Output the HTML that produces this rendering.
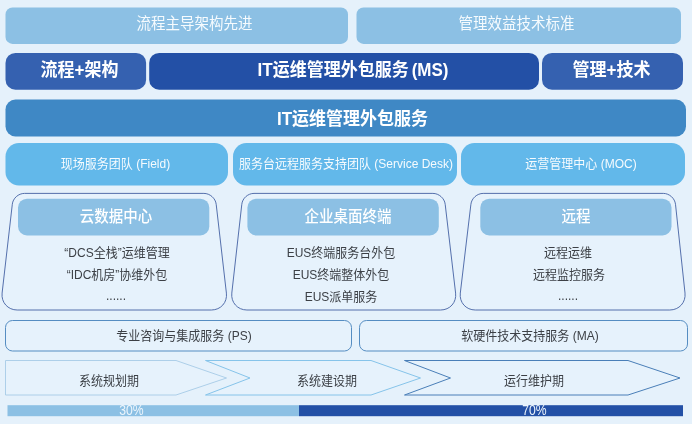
<!DOCTYPE html>
<html lang="zh-CN">
<head>
<meta charset="utf-8">
<title>IT运维管理外包服务</title>
<style>
html,body{margin:0;padding:0;}
body{width:692px;height:424px;overflow:hidden;background:#e5f1fb;position:relative;
  font-family:"Liberation Sans","Noto Sans CJK SC",sans-serif;}
#bg{position:absolute;left:0;top:0;width:692px;height:424px;display:block;}
.t{position:absolute;display:flex;align-items:center;justify-content:center;white-space:nowrap;
  text-align:center;line-height:1;transform:scaleY(1.06);will-change:transform;}
.h1{font-size:14.5px;color:#f6fbfe;font-weight:400;}
.h2{font-size:17px;color:#fff;font-weight:700;}
.h4{font-size:12px;color:#f6fbfe;font-weight:400;}
.ch{font-size:14.5px;color:#fff;font-weight:500;}
.cb{font-size:12px;color:#3c4046;font-weight:400;}
.pc{font-size:14.5px;color:#edf5fc;font-weight:400;}
.pc span{display:inline-block;transform:scaleX(0.84);}
.g2{margin-left:3px;}
</style>
</head>
<body>
<svg id="bg" width="692" height="424" viewBox="0 0 692 424">
  <rect x="0" y="0" width="692" height="424" fill="#e5f1fb"/>
  <!-- row 1 -->
  <rect x="5.5" y="7.4" width="342.5" height="36.5" rx="7" fill="#8cc0e4"/>
  <rect x="356.5" y="7.4" width="324.5" height="36.5" rx="7" fill="#8cc0e4"/>
  <!-- row 2 -->
  <rect x="5.5" y="52.9" width="140.6" height="36.9" rx="10" fill="#3561b0"/>
  <rect x="149.2" y="52.9" width="389.8" height="36.9" rx="10" fill="#2350a6"/>
  <rect x="542" y="52.9" width="141" height="36.9" rx="10" fill="#3561b0"/>
  <!-- row 3 -->
  <rect x="5.5" y="99.5" width="680.5" height="37" rx="10" fill="#3f88c5"/>
  <!-- row 4 -->
  <rect x="5.5" y="143" width="222.5" height="42.5" rx="13.5" fill="#62b8ea"/>
  <rect x="233" y="143" width="224" height="42.5" rx="13.5" fill="#62b8ea"/>
  <rect x="461" y="143" width="224" height="42.5" rx="13.5" fill="#62b8ea"/>
  <!-- cards -->
  <g fill="#e6f2fc" stroke="#4461a3" stroke-width="0.9">
    <path d="M12.3,204.3 C12.9,198.3 18.4,193.4 24.5,193.4 L203.9,193.4 C210.0,193.4 215.5,198.3 216.2,204.3 L226.4,293.1 C227.5,302.4 220.8,310.0 211.4,310.0 L17.2,310.0 C7.8,310.0 1.1,302.4 2.1,293.1 Z"/>
    <path d="M241.8,204.3 C242.4,198.3 247.9,193.4 254.0,193.4 L432.9,193.4 C439.0,193.4 444.5,198.3 445.2,204.3 L455.6,293.1 C456.7,302.4 450.0,310.0 440.6,310.0 L246.9,310.0 C237.5,310.0 230.8,302.4 231.8,293.1 Z"/>
    <path d="M470.9,204.3 C471.6,198.3 477.1,193.4 483.2,193.4 L663.3,193.4 C669.4,193.4 674.8,198.3 675.5,204.3 L685.0,293.1 C686.0,302.4 679.2,310.0 669.8,310.0 L475.3,310.0 C465.9,310.0 459.2,302.4 460.3,293.1 Z"/>
  </g>
  <rect x="18" y="198.7" width="191.3" height="36.8" rx="9" fill="#8cc0e4"/>
  <rect x="247.4" y="198.7" width="191.4" height="36.8" rx="9" fill="#8cc0e4"/>
  <rect x="480.3" y="198.7" width="191.2" height="36.8" rx="9" fill="#8cc0e4"/>
  <!-- PS / MA -->
  <rect x="5.5" y="320.5" width="346" height="30.5" rx="7" fill="#e6f2fc" stroke="#558dc2" stroke-width="1"/>
  <rect x="359.5" y="320.5" width="328" height="30.5" rx="7" fill="#e6f2fc" stroke="#558dc2" stroke-width="1"/>
  <!-- arrows -->
  <g fill="#e6f2fc" stroke-linejoin="round">
    <path d="M5.5,360.5 H176 L226.5,378 L176,395 H5.5 Z" stroke="#a6cbe6" stroke-width="0.9"/>
    <path d="M205.5,360.5 H371 L420.5,378 L371,395 H205.5 L250,378 Z" stroke="#86c4ea" stroke-width="1"/>
    <path d="M404.5,360.5 H628 L680,378 L628,395 H404.5 L450.5,378 Z" stroke="#4a7fb8" stroke-width="1"/>
  </g>
  <!-- progress -->
  <rect x="7.5" y="405.2" width="291.5" height="11" fill="#8cc0e4"/>
  <rect x="299" y="405.2" width="384" height="11" fill="#2350a6"/>
</svg>

<div class="t h1" style="left:23.25px;top:5.9px;width:343px;height:37px;">流程主导架构先进</div>
<div class="t h1" style="left:353.5px;top:5.9px;width:325px;height:37px;">管理效益技术标准</div>

<div class="t h2" style="left:8.75px;top:51.8px;width:141px;height:36px;">流程+架构</div>
<div class="t h2" style="left:157.5px;top:51.8px;width:390px;height:36px;">IT运维管理外包服务<span class="g2">(MS)</span></div>
<div class="t h2" style="left:540.5px;top:51.8px;width:141px;height:36px;">管理+技术</div>

<div class="t h2" style="left:12px;top:100.6px;width:681px;height:37px;">IT运维管理外包服务</div>

<div class="t h4" style="left:4px;top:142.75px;width:223px;height:42px;">现场服务团队 (Field)</div>
<div class="t h4" style="left:234.25px;top:142.75px;width:224px;height:42px;">服务台远程服务支持团队 (Service Desk)</div>
<div class="t h4" style="left:468.75px;top:142.75px;width:224px;height:42px;">运营管理中心 (MOC)</div>

<div class="t ch" style="left:19.7px;top:198.5px;width:192px;height:37px;">云数据中心</div>
<div class="t ch" style="left:251.85px;top:198.5px;width:192px;height:37px;">企业桌面终端</div>
<div class="t ch" style="left:480px;top:198.5px;width:192px;height:37px;">远程</div>

<div class="t cb" style="left:21.4px;top:242px;width:192px;height:22px;">“DCS全栈”运维管理</div>
<div class="t cb" style="left:20.9px;top:264px;width:192px;height:22px;">“IDC机房”协维外包</div>
<div class="t cb" style="left:20px;top:285.4px;width:192px;height:22px;">......</div>

<div class="t cb" style="left:245px;top:242px;width:192px;height:22px;">EUS终端服务台外包</div>
<div class="t cb" style="left:244.5px;top:264px;width:192px;height:22px;">EUS终端整体外包</div>
<div class="t cb" style="left:244.65px;top:286.2px;width:192px;height:22px;">EUS派单服务</div>

<div class="t cb" style="left:472.3px;top:242px;width:192px;height:22px;">远程运维</div>
<div class="t cb" style="left:472.5px;top:264px;width:192px;height:22px;">远程监控服务</div>
<div class="t cb" style="left:472.3px;top:285.4px;width:192px;height:22px;">......</div>

<div class="t cb" style="left:11.1px;top:320px;width:346px;height:31px;">专业咨询与集成服务 (PS)</div>
<div class="t cb" style="left:366px;top:320px;width:328px;height:31px;">软硬件技术支持服务 (MA)</div>

<div class="t cb" style="left:58.6px;top:369.75px;width:100px;height:22px;">系统规划期</div>
<div class="t cb" style="left:276.5px;top:369.75px;width:100px;height:22px;">系统建设期</div>
<div class="t cb" style="left:484.1px;top:369.75px;width:100px;height:22px;">运行维护期</div>

<div class="t pc" style="left:102px;top:402.5px;width:60px;height:14px;"><span>30%</span></div>
<div class="t pc" style="left:505.4px;top:402.5px;width:60px;height:14px;"><span>70%</span></div>
</body>
</html>
